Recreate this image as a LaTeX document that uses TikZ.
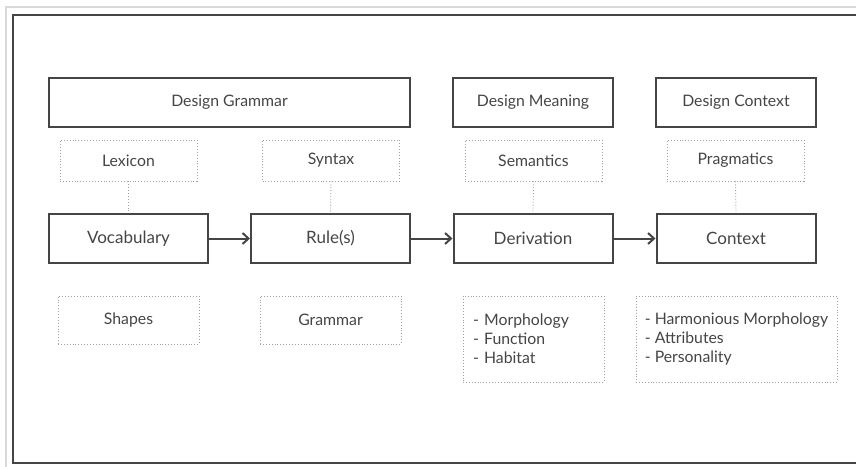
\documentclass[tikz,border=0pt]{standalone}
\usepackage{fontspec}
\setmainfont{Lato}
\usetikzlibrary{arrows.meta}
\definecolor{ink}{HTML}{454545}
\definecolor{dotgray}{HTML}{A0A0A0}

\begin{document}
\begin{tikzpicture}[x=1pt,y=-1pt,
  solidbox/.style={draw=ink,line width=2pt,text=ink,minimum height=49pt,inner sep=0pt},
  dotbox/.style={draw=dotgray,line width=0.9pt,dotted,text=ink,inner sep=0pt},
  link/.style={draw=dotgray,line width=0.9pt,dotted},
  flow/.style={draw=ink,line width=2pt,-{Straight Barb[length=6pt,width=11pt]}}]
\def\boxfont{\fontsize{15.8}{19}\selectfont}
\def\chainfont{\fontsize{17}{19}\selectfont}
\useasboundingbox (0,0) rectangle (856,466);

% frame
\draw[black!15,line width=1.5pt] (6,475) -- (6,7) -- (870,7);
\draw[ink,line width=1.6pt] (13,15) rectangle (870,463);

% top row
\node[solidbox,font=\boxfont,minimum width=361pt] (grammar) at (229.5,102) {Design Grammar};
\node[solidbox,font=\boxfont,minimum width=160pt] (meaning) at (533,102) {Design Meaning};
\node[solidbox,font=\boxfont,minimum width=160pt] (context) at (736,102) {Design Context};

\foreach \n/\x/\t in {lexicon/128.5/Lexicon, syntax/331/Syntax, semantics/533.5/Semantics, pragmatics/735.5/Pragmatics}
  \node[dotbox,font=\boxfont,minimum width=137pt,minimum height=41pt] (\n) at (\x,160.5) {\t};

% main chain
\foreach \n/\x/\t in {vocab/128.5/Vocabulary, rules/330.5/{Rule(s)}, deriv/533/Derivation, ctx/736/Context}
  \node[solidbox,font=\chainfont,minimum width=159pt] (\n) at (\x,238.5) {\t};

\foreach \a/\b in {lexicon/vocab, syntax/rules, semantics/deriv, pragmatics/ctx}
  \draw[link] (\a.south) -- (\b.north);
\foreach \a/\b in {vocab/rules, rules/deriv, deriv/ctx}
  \draw[flow] (\a) -- (\b);

% bottom row
\node[dotbox,font=\boxfont,minimum width=141pt,minimum height=48pt] (shapes) at (128.5,320) {Shapes};
\node[dotbox,font=\boxfont,minimum width=141pt,minimum height=48pt] (rulebook) at (330.5,320) {Grammar};
\node[dotbox,font=\boxfont,minimum width=141pt,minimum height=86pt,text width=121pt,align=left] (meanlist) at (533.5,339)
  {- Morphology\\- Function\\- Habitat};
\node[dotbox,font=\boxfont,minimum width=201pt,minimum height=86pt,align=left] (ctxlist) at (736.5,339)
  {- Harmonious Morphology\\- Attributes\\- Personality};
\end{tikzpicture}
\end{document}
